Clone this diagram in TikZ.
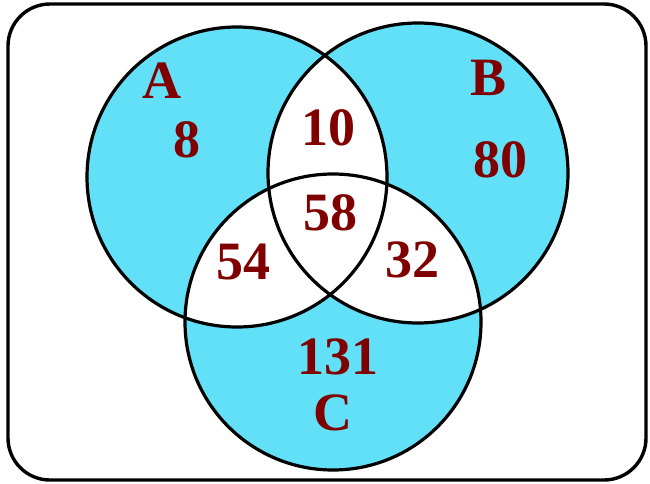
\documentclass[tikz,border=0pt]{standalone}
\usepackage{fontspec}
\setmainfont{Liberation Serif}
\definecolor{venncyan}{RGB}{98,224,248}
\definecolor{vennred}{RGB}{128,0,0}
\begin{document}
\begin{tikzpicture}[x=1pt,y=-1pt,
  lbl/.style={inner sep=0pt,text=vennred,font=\fontsize{54}{60}\selectfont\bfseries},
  ring/.style={draw=black,line width=3.2pt},
  frame/.style={draw=black,line width=3.4pt,rounded corners=42pt}]
\useasboundingbox (0,0) rectangle (650,484);
\coordinate (ca) at (237,177);
\coordinate (cb) at (418,173);
\coordinate (cc) at (333,322);
\def\ra{150}\def\rb{150}\def\rc{148}
% frame
\draw[frame] (8,4) rectangle (646,480);
% fills
\fill[venncyan] (ca) circle[radius=\ra];
\fill[venncyan] (cb) circle[radius=\rb];
\fill[venncyan] (cc) circle[radius=\rc];
\begin{scope}
  \clip (ca) circle[radius=\ra];
  \fill[white] (cb) circle[radius=\rb];
  \fill[white] (cc) circle[radius=\rc];
\end{scope}
\begin{scope}
  \clip (cb) circle[radius=\rb];
  \fill[white] (cc) circle[radius=\rc];
\end{scope}
% outlines
\draw[ring] (ca) circle[radius=\ra];
\draw[ring] (cb) circle[radius=\rb];
\draw[ring] (cc) circle[radius=\rc];
% labels
\node[lbl] (la) at (162,81) {A};
\node[lbl] (na) at (187,140) {8};
\node[lbl] (lb) at (489,78) {B};
\node[lbl] (nb) at (500,160) {80};
\node[lbl] (nab) at (328,128) {10};
\node[lbl] (nabc) at (330,213) {58};
\node[lbl] (nac) at (243,262) {54};
\node[lbl] (nbc) at (412,260) {32};
\node[lbl] (nc) at (338,357) {131};
\node[lbl] (lc) at (333,413) {C};
\end{tikzpicture}
\end{document}
